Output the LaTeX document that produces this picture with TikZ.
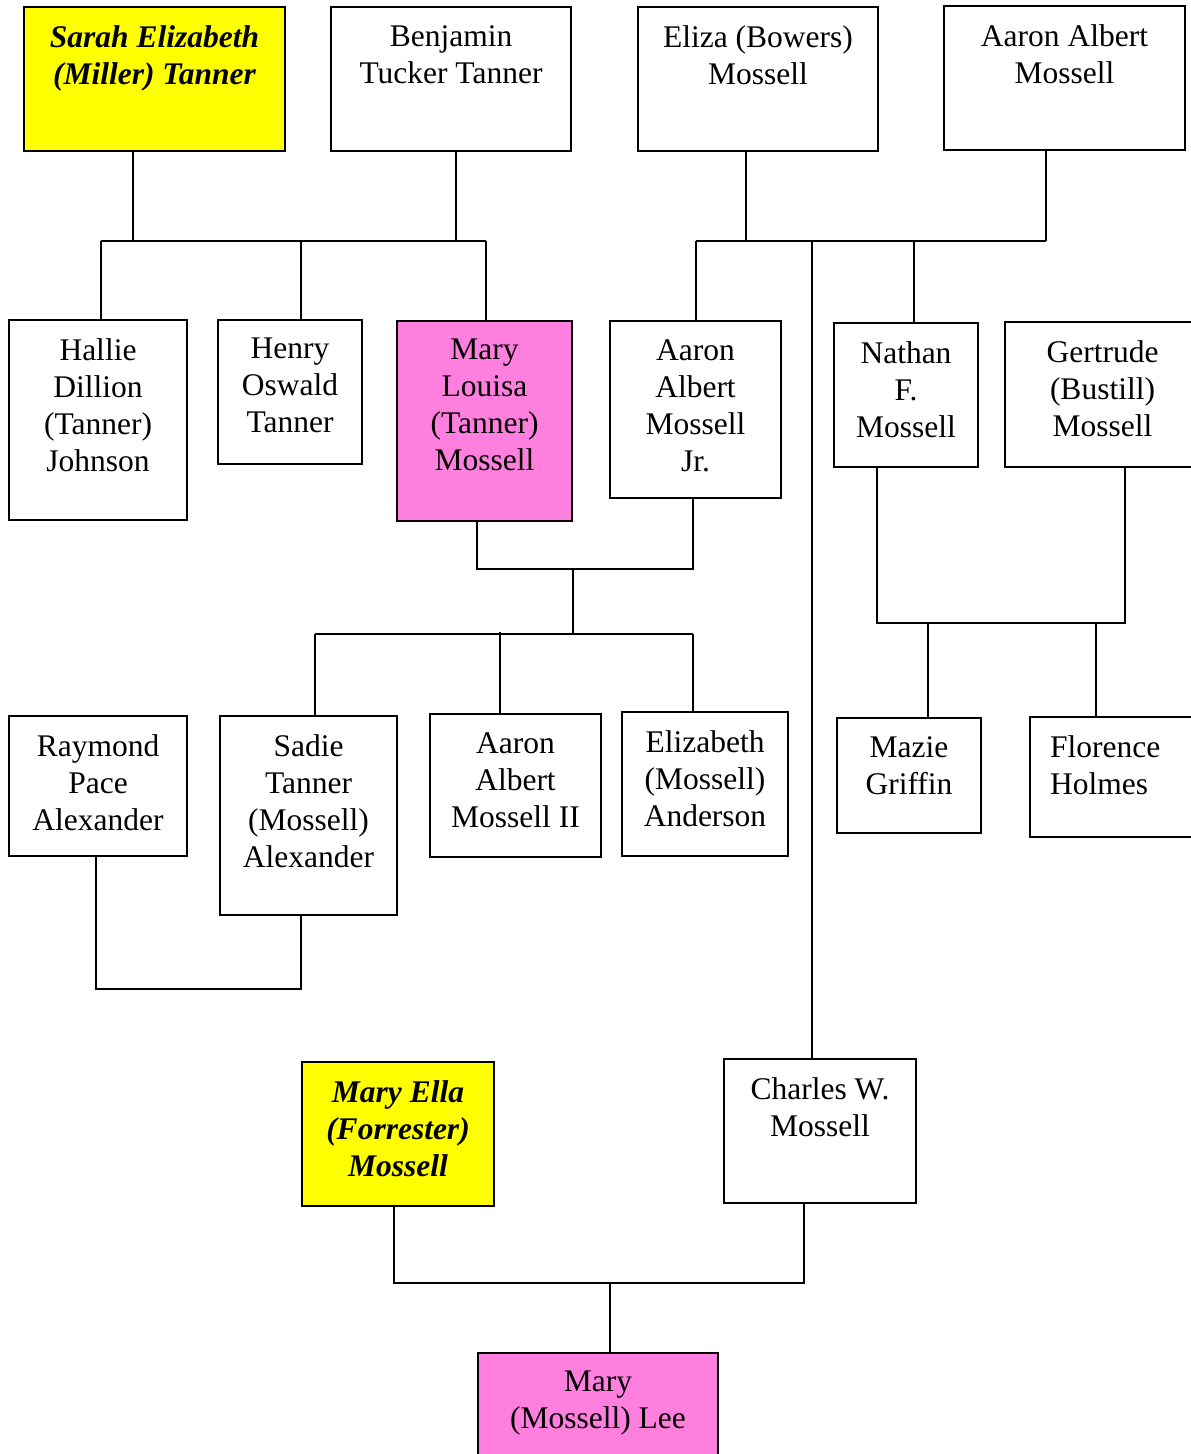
\documentclass[tikz,border=0pt]{standalone}
\usepackage{fontspec}
\setmainfont{Liberation Serif}
\definecolor{famyellow}{HTML}{FFFF00}
\definecolor{fampink}{HTML}{FF7FDF}
\tikzset{
  box/.style={draw=black,line width=2pt,inner sep=0pt,outer sep=0pt},
  txt/.style={align=center,inner sep=0pt,font=\fontsize{31.5}{37}\selectfont},
  bi/.style={font=\fontsize{31.5}{37}\selectfont\bfseries\itshape},
  link/.style={draw=black,line width=2pt}
}
% name, x1, y1, x2, y2, box style, text
\newcommand\fambox[7]{%
  \node[box,#6,minimum width={#4-#2},minimum height={#5-#3}] (#1) at ({(#2+#4)/2},{(#3+#5)/2}) {};
  \node[txt,anchor=north] (#1-t) at ([yshift=-18pt]#1.north) {#7};
}
\begin{document}
\begin{tikzpicture}[x=1pt,y=-1pt]
\useasboundingbox[fill=white] (0,0) rectangle (1191,1454);
% generation 1
\fambox{sarah}{24}{7}{285}{151}{fill=famyellow}{\bfseries\itshape Sarah Elizabeth\\\bfseries\itshape (Miller) Tanner}
\fambox{benjamin}{331}{7}{571}{151}{}{Benjamin\\Tucker Tanner}
\fambox{eliza}{638}{7}{878}{151}{}{Eliza (Bowers)\\Mossell}
\fambox{aaron}{944}{6}{1185}{150}{}{Aaron Albert\\Mossell}
% generation 2
\fambox{hallie}{9}{320}{187}{520}{}{Hallie\\Dillion\\(Tanner)\\Johnson}
\fambox{henry}{218}{320}{362}{464}{}{Henry\\Oswald\\Tanner}
\fambox{marylouisa}{397}{321}{572}{521}{fill=fampink}{Mary\\Louisa\\(Tanner)\\Mossell}
\fambox{aaronjr}{610}{321}{781}{498}{}{Aaron\\Albert\\Mossell\\Jr.}
\fambox{nathan}{834}{323}{978}{467}{}{Nathan\\F.\\Mossell}
\fambox{gertrude}{1005}{322}{1200}{467}{}{Gertrude\\(Bustill)\\Mossell}
% generation 3
\fambox{raymond}{9}{716}{187}{856}{}{Raymond\\Pace\\Alexander}
\fambox{sadie}{220}{716}{397}{915}{}{Sadie\\Tanner\\(Mossell)\\Alexander}
\fambox{aaronii}{430}{714}{601}{857}{}{Aaron\\Albert\\Mossell II}
\fambox{elizabeth}{622}{712}{788}{856}{}{Elizabeth\\(Mossell)\\Anderson}
\fambox{mazie}{837}{718}{981}{833}{}{Mazie\\Griffin}
\node[box,minimum width=170,minimum height=120] (florence) at (1115,777) {};
\node[txt,align=left,anchor=north west] (florence-t) at ([yshift=-18pt]florence.north west -| 1050,0) {Florence\\Holmes};
% lower part
\fambox{maryella}{302}{1062}{494}{1206}{fill=famyellow}{\bfseries\itshape Mary Ella\\\bfseries\itshape (Forrester)\\\bfseries\itshape Mossell}
\fambox{charles}{724}{1059}{916}{1203}{}{Charles W.\\Mossell}
\fambox{marylee}{478}{1353}{718}{1470}{fill=fampink}{Mary\\(Mossell) Lee}
% junction coordinates
\coordinate (j1) at (101,241);
\coordinate (j2) at (486,241);
\coordinate (j3) at (696,241);
\coordinate (j4) at (1046,241);
\coordinate (j5) at (477,569);
\coordinate (j6) at (693,569);
\coordinate (j7) at (573,634);
\coordinate (j8) at (315,634);
\coordinate (j9) at (693,634);
\coordinate (j10) at (877,623);
\coordinate (j11) at (1125,623);
\coordinate (j12) at (96,989);
\coordinate (j13) at (301,989);
\coordinate (j14) at (394,1283);
\coordinate (j15) at (804,1283);
\coordinate (j16) at (610,1283);
\coordinate (j17) at (812,241);
% Tanner family
\draw[link] (sarah.south -| 133,0) -- (133,241);
\draw[link] (benjamin.south -| 456,0) -- (456,241);
\draw[link] (j1) -- (j2);
\draw[link] (j1) -- (j1 |- hallie.north);
\draw[link] (301,241) -- (henry.north -| 301,0);
\draw[link] (j2) -- (j2 |- marylouisa.north);
% Mossell family
\draw[link] (eliza.south -| 746,0) -- (746,241);
\draw[link] (aaron.south -| j4) -- (j4);
\draw[link] (j3) -- (j4);
\draw[link] (j3) -- (j3 |- aaronjr.north);
\draw[link] (914,241) -- (nathan.north -| 914,0);
\draw[link] (j17) -- (j17 |- charles.north);
% Mary Louisa + Aaron Jr
\draw[link] (j5 |- marylouisa.south) -- (j5) -- (j6) -- (j6 |- aaronjr.south);
\draw[link] (573,569) -- (j7);
\draw[link] (j8) -- (j9);
\draw[link] (j8) -- (j8 |- sadie.north);
\draw[link] (500,632) -- (aaronii.north -| 500,0);
\draw[link] (j9) -- (j9 |- elizabeth.north);
% Nathan + Gertrude
\draw[link] (j10 |- nathan.south) -- (j10) -- (j11) -- (j11 |- gertrude.south);
\draw[link] (928,623) -- (mazie.north -| 928,0);
\draw[link] (1096,623) -- (florence.north -| 1096,0);
% Raymond + Sadie
\draw[link] (j12 |- raymond.south) -- (j12) -- (j13) -- (j13 |- sadie.south);
% Mary Ella + Charles
\draw[link] (j14 |- maryella.south) -- (j14) -- (j15) -- (j15 |- charles.south);
\draw[link] (j16) -- (j16 |- marylee.north);
\end{tikzpicture}
\end{document}
